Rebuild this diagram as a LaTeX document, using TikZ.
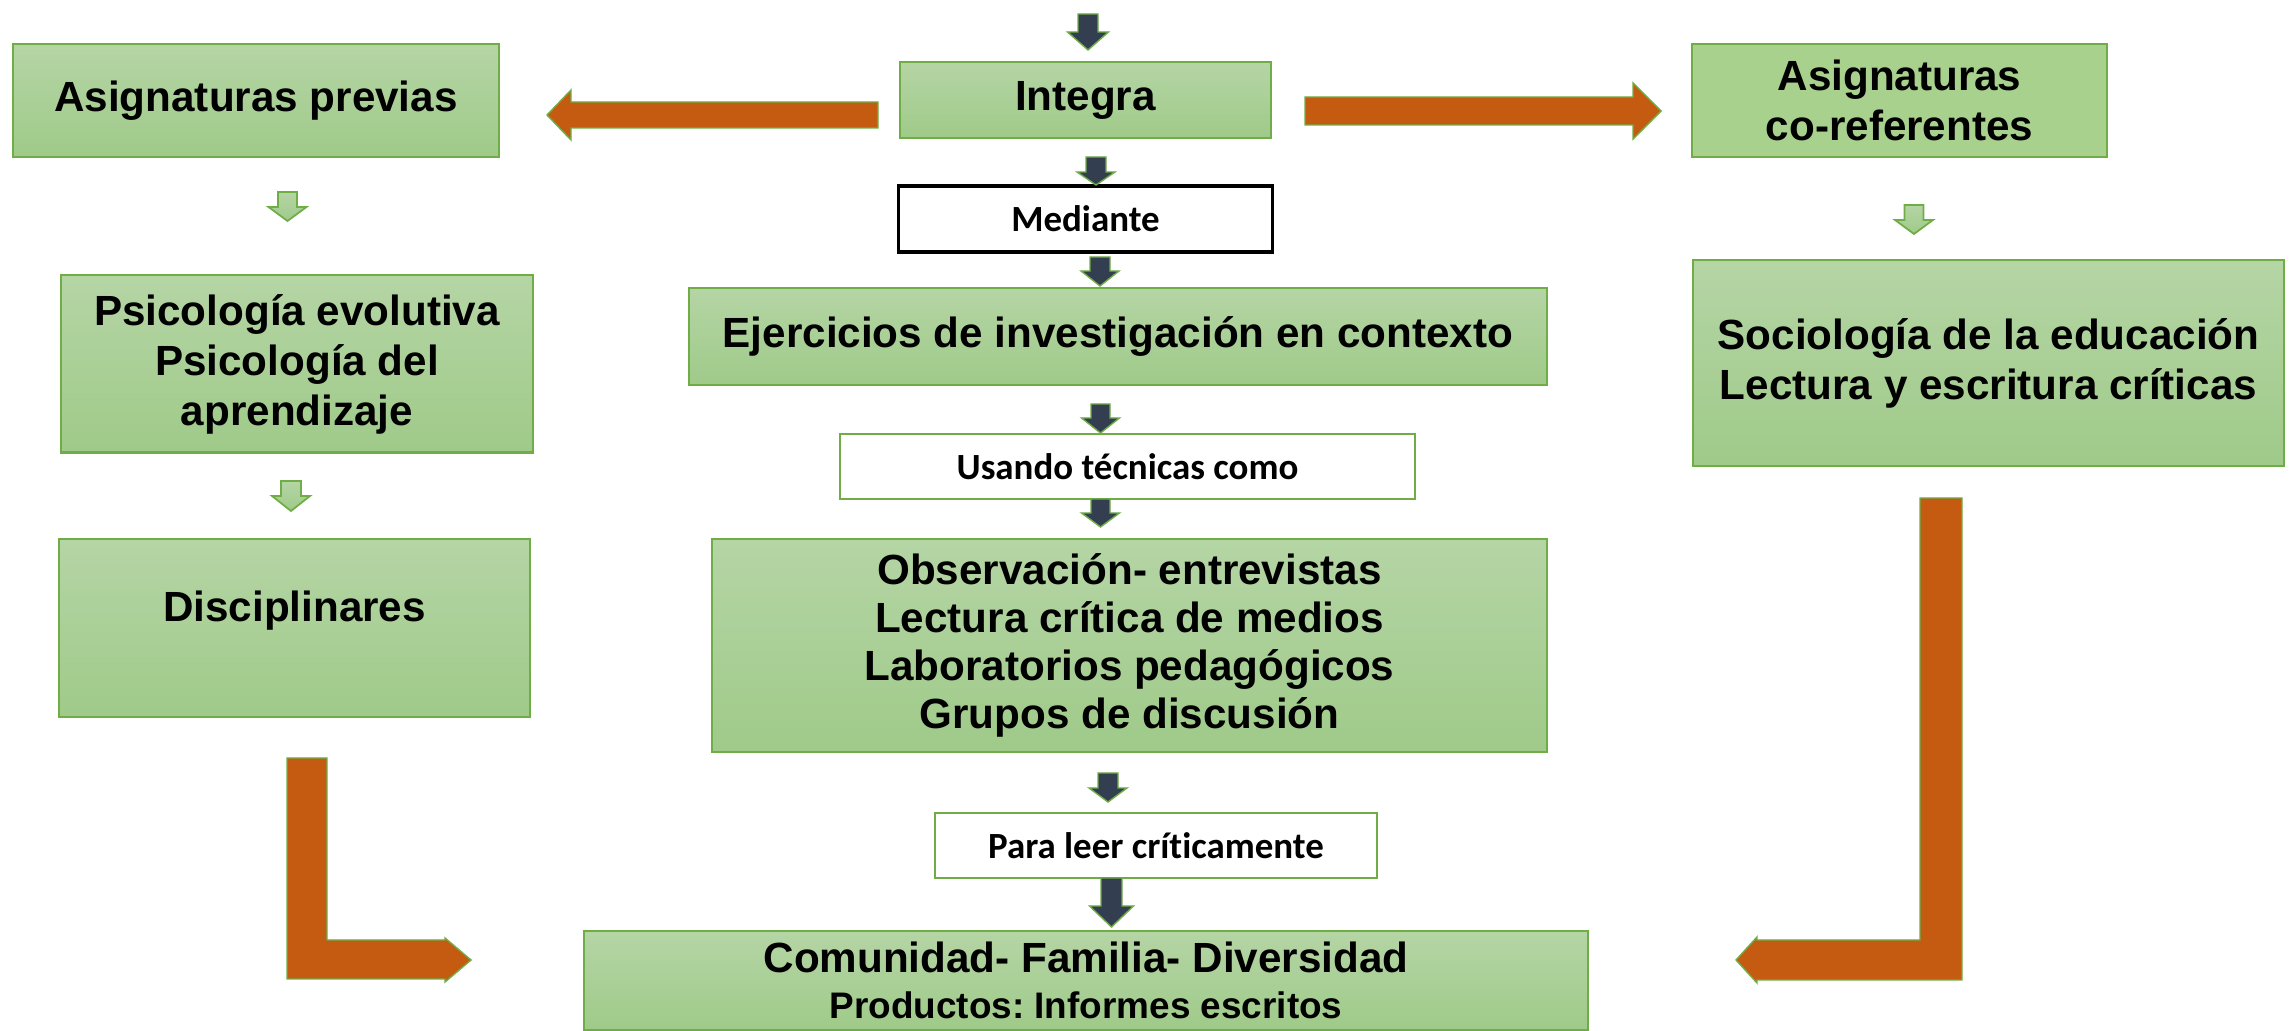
\documentclass[tikz,border=0pt]{standalone}
\usepackage{fontspec}
\setmainfont{Liberation Sans}
\newfontfamily\calibri[Ligatures=NoCommon]{Carlito}
\frenchspacing
\usetikzlibrary{calc}
\definecolor{gtop}{HTML}{B5D5A5}
\definecolor{gbot}{HTML}{9FCA89}
\definecolor{gflat}{HTML}{A9D18E}
\definecolor{gline}{HTML}{70AD47}
\definecolor{orng}{HTML}{C55A11}
\definecolor{navy}{HTML}{333F50}
\def\blockdown[#1](#2:#3:#4:#5:#6:#7){\draw[#1] ({#2-#6},#3) -- ({#2+#6},#3) -- ({#2+#6},#4) -- ({#2+#7},#4) -- (#2,#5) -- ({#2-#7},#4) -- ({#2-#6},#4) -- cycle;}

\begin{document}
\begin{tikzpicture}[x=0.01cm, y=-0.01cm,
	greenbox/.style={draw=gline, line width=0.6pt, top color=gtop, bottom color=gbot, inner sep=0pt, align=center, font=\fontsize{12}{14.2}\selectfont\bfseries},
	flatbox/.style={greenbox, fill=gflat, top color=gflat, bottom color=gflat},
	whitebox/.style={draw=gline, line width=0.6pt, fill=white, inner sep=0pt, font=\calibri\fontsize{10.5}{12}\selectfont\bfseries},
	darkarrow/.style={fill=navy, draw=gline, line width=0.4pt},
	lightarrow/.style={top color=gtop, bottom color=gbot, draw=gline, line width=0.5pt},
	bigarrow/.style={fill=orng, draw=gline, line width=0.4pt}]
		\useasboundingbox (0,0) rectangle (2293,1031);
		%%%%% BOXES %%%%%
		\node[greenbox, minimum width=4.86cm, minimum height=1.13cm] (previas) at (256,100.5) {Asignaturas previas};
		\node[greenbox, minimum width=3.71cm, minimum height=0.76cm] (integra) at (1085.5,100) {Integra};
		\node[flatbox, minimum width=4.15cm, minimum height=1.13cm] (coref) at (1899.5,100.5) {Asignaturas\\co-referentes};
		\node[whitebox, draw=black, line width=0.9pt, minimum width=3.73cm, minimum height=0.66cm] (mediante) at (1085.5,219) {Mediante};
		\node[greenbox, minimum width=4.72cm, minimum height=1.77cm] (psico) at (297,364) {Psicología evolutiva\\Psicología del\\aprendizaje};
		\node[greenbox, minimum width=8.58cm, minimum height=0.97cm] (ejercicios) at (1118,336.5) {Ejercicios de investigación en contexto};
		\node[greenbox, minimum width=5.91cm, minimum height=2.06cm] (socio) at (1988.5,363) {Sociología de la educación\\Lectura y escritura críticas};
		\node[whitebox, minimum width=5.75cm, minimum height=0.65cm] (usando) at (1127.5,466.5) {Usando técnicas como};
		\node[greenbox, minimum width=4.71cm, minimum height=1.78cm] (disc) at (294.5,628) {Disciplinares\\[-2pt]\mbox{}};
		\node[greenbox, minimum width=8.35cm, minimum height=2.13cm, font=\fontsize{12}{13.7}\selectfont\bfseries] (obs) at (1129.5,645.5) {Observación- entrevistas\\Lectura crítica de medios\\Laboratorios pedagógicos\\Grupos de discusión};
		\node[whitebox, minimum width=4.42cm, minimum height=0.65cm] (para) at (1156,845.5) {Para leer críticamente};
		\node[greenbox, minimum width=10.04cm, minimum height=0.99cm] (comun) at (1086,980.5) {Comunidad- Familia- Diversidad\\[-1pt]{\fontsize{10.5}{12}\selectfont Productos: Informes escritos}};
		%%%%% DOWN ARROWS %%%%%
		\blockdown[darkarrow](1088:14:32:50:10:20.5)
		\blockdown[darkarrow](1096:157:172:185:10:19)
		\blockdown[darkarrow](1100:257:271:286:10:19)
		\blockdown[darkarrow](1100.5:404:418:433:9.5:19)
		\blockdown[darkarrow](1100.5:499:513:527:9.5:19)
		\blockdown[darkarrow](1108:773:788:802:10:19)
		\blockdown[darkarrow](1111.5:878:906:927:10.5:22)
		\blockdown[lightarrow](287.5:192:207:221:9.5:19)
		\blockdown[lightarrow](291:481:496:511:10:19)
		\blockdown[lightarrow](1914:205:220:234:9.5:19)
		%%%%% ORANGE ARROWS %%%%%
		\draw[bigarrow] (878,102) -- (571,102) -- (571,90) -- (547,115) -- (571,140) -- (571,128) -- (878,128) -- cycle;
		\draw[bigarrow] (1305,97) -- (1633,97) -- (1633,83) -- (1661,111) -- (1633,139) -- (1633,125) -- (1305,125) -- cycle;
		\draw[bigarrow] (287,758) -- (327,758) -- (327,940) -- (445,940) -- (445,938) -- (471,960) -- (445,982) -- (445,979) -- (287,979) -- cycle;
		\draw[bigarrow] (1962,498) -- (1920,498) -- (1920,940) -- (1757,940) -- (1757,937) -- (1736,960) -- (1757,983) -- (1757,980) -- (1962,980) -- cycle;
\end{tikzpicture}
\end{document}
